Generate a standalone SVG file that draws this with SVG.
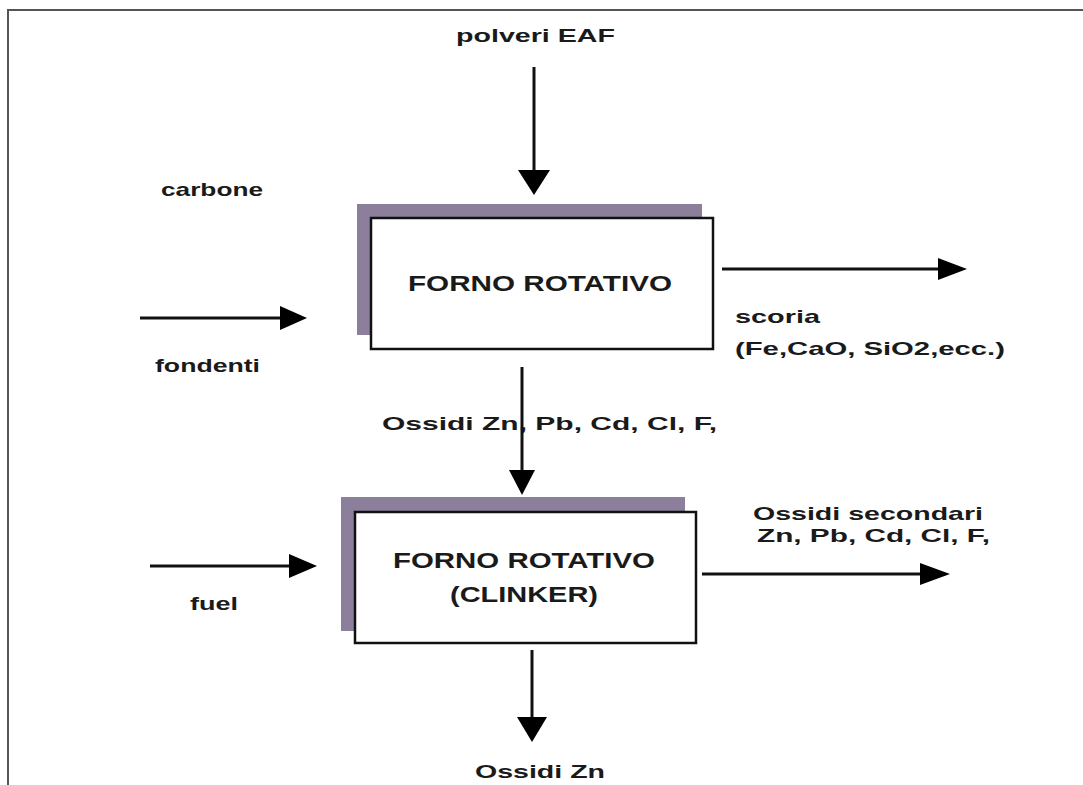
<svg xmlns="http://www.w3.org/2000/svg" width="1083" height="785" viewBox="0 0 1083 785">
<style>
  .t { font-family: "Liberation Sans", Arial, sans-serif; font-weight: bold; font-size: 19px; fill: #1a1a1a; }
  .tb { font-family: "Liberation Sans", Arial, sans-serif; font-weight: bold; font-size: 22px; fill: #1a1a1a; }
  .shadow { fill: #8b7f9b; }
  .box { fill: #ffffff; stroke: #111111; stroke-width: 2.5; }
  .conn { stroke: #111111; stroke-width: 3; fill: none; }
  .head { fill: #000000; }
</style>
<rect x="0" y="0" width="1083" height="785" fill="#ffffff"/>
<path d="M8 785 L8 10 L1083 10" fill="none" stroke="#555555" stroke-width="2"/>

<g id="node-forno1">
  <rect class="shadow" x="357" y="204" width="345" height="131"/>
  <rect class="box" x="371" y="218" width="342" height="131"/>
  <text class="tb" x="408" y="291" textLength="264" lengthAdjust="spacingAndGlyphs">FORNO ROTATIVO</text>
</g>
<g id="node-forno2">
  <rect class="shadow" x="341" y="497" width="344" height="134"/>
  <rect class="box" x="355" y="512" width="341" height="131"/>
  <text class="tb" x="393" y="568" textLength="262" lengthAdjust="spacingAndGlyphs">FORNO ROTATIVO</text>
  <text class="tb" x="450" y="602" textLength="148" lengthAdjust="spacingAndGlyphs">(CLINKER)</text>
</g>

<g id="labels">
  <text class="t" x="456" y="42" textLength="159" lengthAdjust="spacingAndGlyphs">polveri EAF</text>
  <text class="t" x="161" y="196" textLength="102" lengthAdjust="spacingAndGlyphs">carbone</text>
  <text class="t" x="155" y="372" textLength="105" lengthAdjust="spacingAndGlyphs">fondenti</text>
  <text class="t" x="735" y="323" textLength="85" lengthAdjust="spacingAndGlyphs">scoria</text>
  <text class="t" x="735" y="355" textLength="270" lengthAdjust="spacingAndGlyphs">(Fe,CaO, SiO2,ecc.)</text>
  <text class="t" x="382" y="430" textLength="335" lengthAdjust="spacingAndGlyphs">Ossidi Zn, Pb, Cd, Cl, F,</text>
  <text class="t" x="753" y="520" textLength="230" lengthAdjust="spacingAndGlyphs">Ossidi secondari</text>
  <text class="t" x="757" y="542" textLength="233" lengthAdjust="spacingAndGlyphs">Zn, Pb, Cd, Cl, F,</text>
  <text class="t" x="190" y="610" textLength="48" lengthAdjust="spacingAndGlyphs">fuel</text>
  <text class="t" x="475" y="778" textLength="130" lengthAdjust="spacingAndGlyphs">Ossidi Zn</text>
</g>

<g id="connectors">
  <line class="conn" x1="534" y1="67" x2="534" y2="172"/>
  <polygon class="head" points="518,170 550,170 534,195"/>
  <line class="conn" x1="140" y1="318" x2="282" y2="318"/>
  <polygon class="head" points="280,306 280,330 307,318"/>
  <line class="conn" x1="722" y1="269" x2="940" y2="269"/>
  <polygon class="head" points="938,258 938,280 967,269"/>
  <line class="conn" x1="522" y1="367" x2="522" y2="472"/>
  <polygon class="head" points="509,470 535,470 522,495"/>
  <line class="conn" x1="150" y1="566" x2="291" y2="566"/>
  <polygon class="head" points="289,554 289,578 317,566"/>
  <line class="conn" x1="702" y1="574" x2="922" y2="574"/>
  <polygon class="head" points="920,563 920,585 950,574"/>
  <line class="conn" x1="532" y1="650" x2="532" y2="719"/>
  <polygon class="head" points="517,717 547,717 532,742"/>
</g>
</svg>
